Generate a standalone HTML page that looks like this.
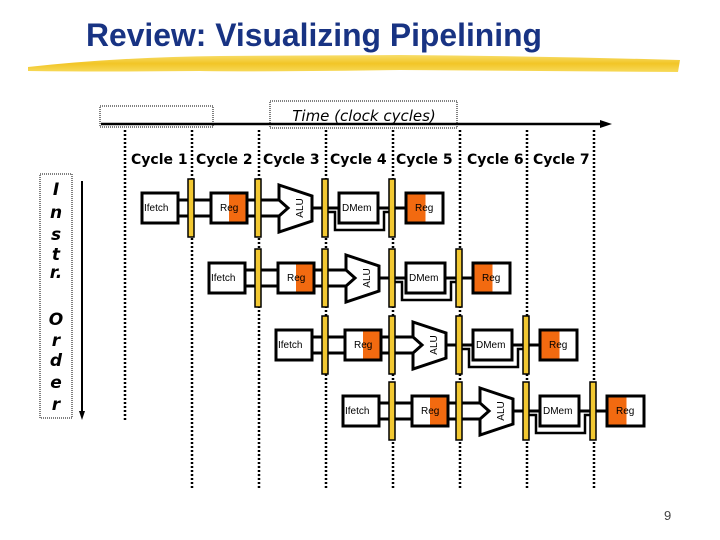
<!DOCTYPE html>
<html><head><meta charset="utf-8"><style>
html,body{margin:0;padding:0;background:#fff;}
svg{display:block;}
.t{font-family:"Liberation Sans",sans-serif;font-size:10px;}
.c{font-family:"DejaVu Sans",sans-serif;font-weight:bold;font-size:14px;}
</style></head><body>
<svg width="720" height="540" viewBox="0 0 720 540" xmlns="http://www.w3.org/2000/svg">
<defs>
<linearGradient id="br" x1="0" y1="0" x2="0" y2="1">
<stop offset="0" stop-color="#f7dd6a"/><stop offset="0.5" stop-color="#f2c526"/><stop offset="1" stop-color="#f7da5a"/>
</linearGradient>
</defs>
<!-- title -->
<text x="86" y="46" font-family="Liberation Sans, sans-serif" font-weight="bold" font-size="32" fill="#183383" textLength="456" lengthAdjust="spacingAndGlyphs">Review: Visualizing Pipelining</text>
<path d="M28 67 Q120 57 220 56 L400 55 Q540 56 680 60 L678 72 Q540 71 400 70 Q260 72 200 71 Q100 72 28 71 Z" fill="url(#br)"/>
<!-- time -->
<rect x="100" y="106" width="113" height="21" fill="none" stroke="#000" stroke-width="1" stroke-dasharray="1,1"/>
<rect x="270" y="101" width="187" height="27" fill="#fff" stroke="#000" stroke-width="1" stroke-dasharray="1,1"/>
<text x="364" y="121" text-anchor="middle" font-family="DejaVu Sans, sans-serif" font-style="italic" font-size="15">Time (clock cycles)</text>
<line x1="101" y1="124" x2="602" y2="124" stroke="#000" stroke-width="2.5"/>
<polygon points="612,124 600,120 600,128" fill="#000"/>
<!-- dashed lines -->
<g stroke="#000" stroke-width="2.5" stroke-dasharray="2,2">
<line x1="125" y1="130" x2="125" y2="420"/>
<line x1="192" y1="130" x2="192" y2="488"/>
<line x1="259" y1="130" x2="259" y2="488"/>
<line x1="326" y1="130" x2="326" y2="488"/>
<line x1="393" y1="130" x2="393" y2="488"/>
<line x1="460" y1="130" x2="460" y2="488"/>
<line x1="527" y1="130" x2="527" y2="488"/>
<line x1="594" y1="130" x2="594" y2="488"/>
</g>
<g class="c">
<text x="131" y="164">Cycle 1</text><text x="196" y="164">Cycle 2</text><text x="263" y="164">Cycle 3</text><text x="330" y="164">Cycle 4</text><text x="396" y="164">Cycle 5</text><text x="467" y="164">Cycle 6</text><text x="533" y="164">Cycle 7</text>
</g>
<!-- instr order -->
<rect x="40" y="174" width="32" height="244" fill="#fff" stroke="#000" stroke-width="1" stroke-dasharray="1,1"/>
<g font-family="DejaVu Sans, sans-serif" font-weight="bold" font-style="italic" font-size="17" text-anchor="middle">
<text x="56" y="195">I</text><text x="56" y="218">n</text><text x="56" y="240">s</text><text x="56" y="260">t</text><text x="56" y="278">r.</text>
<text x="56" y="325">O</text><text x="56" y="346">r</text><text x="56" y="366">d</text><text x="56" y="388">e</text><text x="56" y="410">r</text>
</g>
<line x1="82" y1="181" x2="82" y2="412" stroke="#000" stroke-width="2"/>
<polygon points="82,420 79,411 85,411" fill="#000"/>

<g transform="translate(188,208)">
<g fill="none" stroke="#000" stroke-width="3">
<line x1="-10" y1="-8" x2="0" y2="-8"/><line x1="-10" y1="8" x2="0" y2="8"/>
<line x1="6" y1="-8" x2="23" y2="-8"/><line x1="6" y1="8" x2="23" y2="8"/>
<line x1="59" y1="-8" x2="67" y2="-8"/><line x1="59" y1="8" x2="67" y2="8"/>
<line x1="73" y1="-8" x2="93" y2="-8"/><line x1="73" y1="8" x2="93" y2="8"/>
<line x1="124" y1="0" x2="134" y2="0"/><line x1="140" y1="0" x2="151" y2="0"/>
<line x1="190" y1="0" x2="201" y2="0"/><line x1="207" y1="0" x2="218" y2="0"/>
<polyline points="140,4 147,4 147,22 196,22 196,4 201,4" stroke-width="2.5"/>
</g>
<rect x="-46" y="-15" width="36" height="30" fill="#fff" stroke="#000" stroke-width="3"/>
<rect x="23" y="-15" width="36" height="30" fill="#fff" stroke="#000" stroke-width="3"/>
<rect x="41" y="-13.5" width="16.5" height="27" fill="#f26a10"/>
<polygon points="91,-23 124,-12 124,13 91,24 91,8 100,0 91,-8" fill="#fff" stroke="#000" stroke-width="3"/>
<rect x="151" y="-15" width="39" height="30" fill="#fff" stroke="#000" stroke-width="3"/>
<rect x="218" y="-15" width="37" height="30" fill="#fff" stroke="#000" stroke-width="3"/>
<rect x="219.5" y="-13.5" width="18" height="27" fill="#f26a10"/>
<g fill="#f2c832" stroke="#000" stroke-width="1.5">
<rect x="0" y="-29" width="6" height="58"/><rect x="67" y="-29" width="6" height="58"/><rect x="134" y="-29" width="6" height="58"/><rect x="201" y="-29" width="6" height="58"/>
</g>
<g class="t">
<text x="-44" y="3">Ifetch</text><text x="32" y="3">Reg</text><text x="154" y="3">DMem</text><text x="227" y="3">Reg</text>
<text transform="translate(115,0) rotate(-90)" text-anchor="middle">ALU</text>
</g>
</g>

<g transform="translate(255,278)">
<g fill="none" stroke="#000" stroke-width="3">
<line x1="-10" y1="-8" x2="0" y2="-8"/><line x1="-10" y1="8" x2="0" y2="8"/>
<line x1="6" y1="-8" x2="23" y2="-8"/><line x1="6" y1="8" x2="23" y2="8"/>
<line x1="59" y1="-8" x2="67" y2="-8"/><line x1="59" y1="8" x2="67" y2="8"/>
<line x1="73" y1="-8" x2="93" y2="-8"/><line x1="73" y1="8" x2="93" y2="8"/>
<line x1="124" y1="0" x2="134" y2="0"/><line x1="140" y1="0" x2="151" y2="0"/>
<line x1="190" y1="0" x2="201" y2="0"/><line x1="207" y1="0" x2="218" y2="0"/>
<polyline points="140,4 147,4 147,22 196,22 196,4 201,4" stroke-width="2.5"/>
</g>
<rect x="-46" y="-15" width="36" height="30" fill="#fff" stroke="#000" stroke-width="3"/>
<rect x="23" y="-15" width="36" height="30" fill="#fff" stroke="#000" stroke-width="3"/>
<rect x="41" y="-13.5" width="16.5" height="27" fill="#f26a10"/>
<polygon points="91,-23 124,-12 124,13 91,24 91,8 100,0 91,-8" fill="#fff" stroke="#000" stroke-width="3"/>
<rect x="151" y="-15" width="39" height="30" fill="#fff" stroke="#000" stroke-width="3"/>
<rect x="218" y="-15" width="37" height="30" fill="#fff" stroke="#000" stroke-width="3"/>
<rect x="219.5" y="-13.5" width="18" height="27" fill="#f26a10"/>
<g fill="#f2c832" stroke="#000" stroke-width="1.5">
<rect x="0" y="-29" width="6" height="58"/><rect x="67" y="-29" width="6" height="58"/><rect x="134" y="-29" width="6" height="58"/><rect x="201" y="-29" width="6" height="58"/>
</g>
<g class="t">
<text x="-44" y="3">Ifetch</text><text x="32" y="3">Reg</text><text x="154" y="3">DMem</text><text x="227" y="3">Reg</text>
<text transform="translate(115,0) rotate(-90)" text-anchor="middle">ALU</text>
</g>
</g>

<g transform="translate(322,345)">
<g fill="none" stroke="#000" stroke-width="3">
<line x1="-10" y1="-8" x2="0" y2="-8"/><line x1="-10" y1="8" x2="0" y2="8"/>
<line x1="6" y1="-8" x2="23" y2="-8"/><line x1="6" y1="8" x2="23" y2="8"/>
<line x1="59" y1="-8" x2="67" y2="-8"/><line x1="59" y1="8" x2="67" y2="8"/>
<line x1="73" y1="-8" x2="93" y2="-8"/><line x1="73" y1="8" x2="93" y2="8"/>
<line x1="124" y1="0" x2="134" y2="0"/><line x1="140" y1="0" x2="151" y2="0"/>
<line x1="190" y1="0" x2="201" y2="0"/><line x1="207" y1="0" x2="218" y2="0"/>
<polyline points="140,4 147,4 147,22 196,22 196,4 201,4" stroke-width="2.5"/>
</g>
<rect x="-46" y="-15" width="36" height="30" fill="#fff" stroke="#000" stroke-width="3"/>
<rect x="23" y="-15" width="36" height="30" fill="#fff" stroke="#000" stroke-width="3"/>
<rect x="41" y="-13.5" width="16.5" height="27" fill="#f26a10"/>
<polygon points="91,-23 124,-12 124,13 91,24 91,8 100,0 91,-8" fill="#fff" stroke="#000" stroke-width="3"/>
<rect x="151" y="-15" width="39" height="30" fill="#fff" stroke="#000" stroke-width="3"/>
<rect x="218" y="-15" width="37" height="30" fill="#fff" stroke="#000" stroke-width="3"/>
<rect x="219.5" y="-13.5" width="18" height="27" fill="#f26a10"/>
<g fill="#f2c832" stroke="#000" stroke-width="1.5">
<rect x="0" y="-29" width="6" height="58"/><rect x="67" y="-29" width="6" height="58"/><rect x="134" y="-29" width="6" height="58"/><rect x="201" y="-29" width="6" height="58"/>
</g>
<g class="t">
<text x="-44" y="3">Ifetch</text><text x="32" y="3">Reg</text><text x="154" y="3">DMem</text><text x="227" y="3">Reg</text>
<text transform="translate(115,0) rotate(-90)" text-anchor="middle">ALU</text>
</g>
</g>

<g transform="translate(389,411)">
<g fill="none" stroke="#000" stroke-width="3">
<line x1="-10" y1="-8" x2="0" y2="-8"/><line x1="-10" y1="8" x2="0" y2="8"/>
<line x1="6" y1="-8" x2="23" y2="-8"/><line x1="6" y1="8" x2="23" y2="8"/>
<line x1="59" y1="-8" x2="67" y2="-8"/><line x1="59" y1="8" x2="67" y2="8"/>
<line x1="73" y1="-8" x2="93" y2="-8"/><line x1="73" y1="8" x2="93" y2="8"/>
<line x1="124" y1="0" x2="134" y2="0"/><line x1="140" y1="0" x2="151" y2="0"/>
<line x1="190" y1="0" x2="201" y2="0"/><line x1="207" y1="0" x2="218" y2="0"/>
<polyline points="140,4 147,4 147,22 196,22 196,4 201,4" stroke-width="2.5"/>
</g>
<rect x="-46" y="-15" width="36" height="30" fill="#fff" stroke="#000" stroke-width="3"/>
<rect x="23" y="-15" width="36" height="30" fill="#fff" stroke="#000" stroke-width="3"/>
<rect x="41" y="-13.5" width="16.5" height="27" fill="#f26a10"/>
<polygon points="91,-23 124,-12 124,13 91,24 91,8 100,0 91,-8" fill="#fff" stroke="#000" stroke-width="3"/>
<rect x="151" y="-15" width="39" height="30" fill="#fff" stroke="#000" stroke-width="3"/>
<rect x="218" y="-15" width="37" height="30" fill="#fff" stroke="#000" stroke-width="3"/>
<rect x="219.5" y="-13.5" width="18" height="27" fill="#f26a10"/>
<g fill="#f2c832" stroke="#000" stroke-width="1.5">
<rect x="0" y="-29" width="6" height="58"/><rect x="67" y="-29" width="6" height="58"/><rect x="134" y="-29" width="6" height="58"/><rect x="201" y="-29" width="6" height="58"/>
</g>
<g class="t">
<text x="-44" y="3">Ifetch</text><text x="32" y="3">Reg</text><text x="154" y="3">DMem</text><text x="227" y="3">Reg</text>
<text transform="translate(115,0) rotate(-90)" text-anchor="middle">ALU</text>
</g>
</g>

<text x="664" y="520" font-family="Liberation Sans, sans-serif" font-size="13" fill="#444">9</text>
</svg>
</body></html>
